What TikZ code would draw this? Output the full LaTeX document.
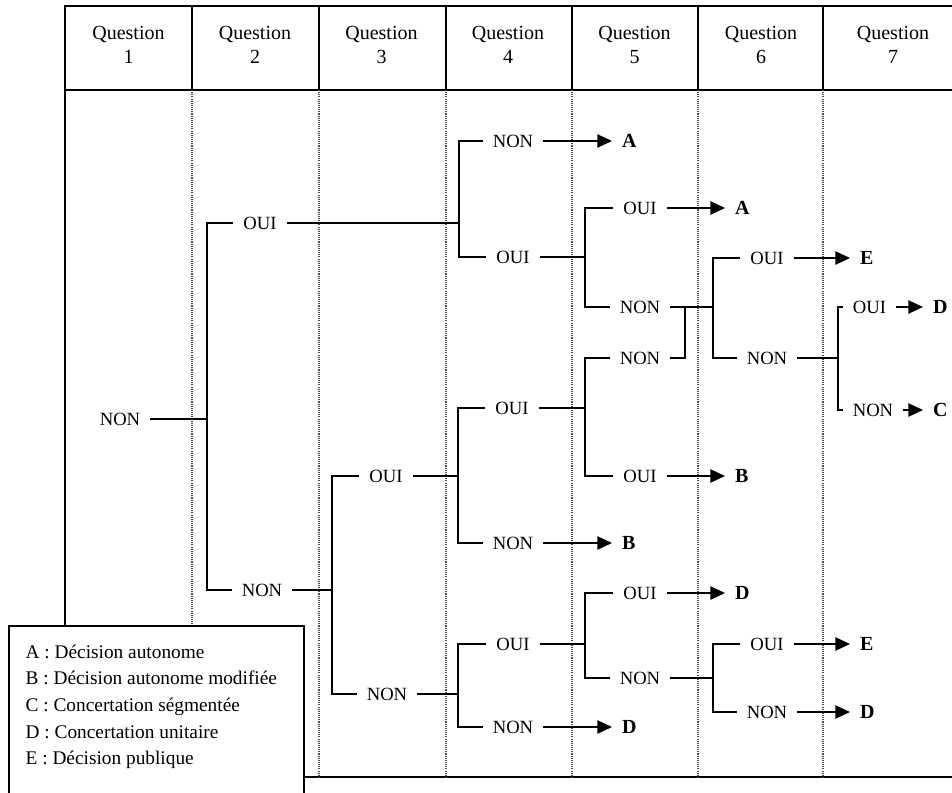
\documentclass[tikz,border=0pt]{standalone}
\usepackage{fontspec}
\setmainfont{Liberation Serif}
\usetikzlibrary{arrows.meta}

\begin{document}
\begin{tikzpicture}[x=0.75pt, y=-0.75pt, line width=1pt,
  >={Triangle[length=11pt, width=10pt]},
  frame/.style={line width=1.2pt},
  sep/.style={line width=0.8pt, dash pattern=on 0.8pt off 0.8pt, black!70},
  head/.style={align=center, font=\fontsize{15}{18}\selectfont},
  ans/.style={inner xsep=7pt, inner ysep=2pt, font=\fontsize{14}{16}\selectfont},
  res/.style={anchor=west, inner xsep=7pt, font=\fontsize{15}{16}\selectfont\bfseries}]
  \useasboundingbox (0,0) rectangle (952,792);

  % table frame and columns
  \draw[frame] (65,626) -- (65,6) -- (952,6);
  \draw[frame] (65,90) -- (952,90);
  \draw[frame] (304,777) -- (952,777);
  \foreach \x in {192,319,446,572,698,823} {
    \draw[frame] (\x,6) -- (\x,90);
    \draw[sep] (\x,90) -- (\x,777);
  }
  \foreach \i/\x in {1/128.5,2/255,3/381.5,4/508,5/634.5,6/761,7/893}
    \node[head] (q\i) at (\x,45) {Question\\\i};

  % answers, question by question
  \node[ans] (n1) at (120,419) {NON};
  \node[ans] (o2) at (260,223) {OUI};
  \node[ans] (n2) at (262,590) {NON};
  \node[ans] (o3) at (386,476) {OUI};
  \node[ans] (n3) at (387,694) {NON};
  \node[ans] (n4a) at (513,141) {NON};
  \node[ans] (o4a) at (513,257) {OUI};
  \node[ans] (o4b) at (512,408) {OUI};
  \node[ans] (n4b) at (513,543) {NON};
  \node[ans] (o4c) at (513,644) {OUI};
  \node[ans] (n4c) at (513,727) {NON};
  \node[ans] (o5a) at (640,208) {OUI};
  \node[ans] (n5a) at (640,307) {NON};
  \node[ans] (n5b) at (640,358) {NON};
  \node[ans] (o5b) at (640,476) {OUI};
  \node[ans] (o5c) at (640,593) {OUI};
  \node[ans] (n5c) at (640,678) {NON};
  \node[ans] (o6a) at (767,258) {OUI};
  \node[ans] (n6a) at (767,358) {NON};
  \node[ans] (o6b) at (767,644) {OUI};
  \node[ans] (n6b) at (767,712) {NON};
  \node[ans] (o7) at (869.5,307) {OUI};
  \node[ans] (n7) at (873,410) {NON};

  % outcomes
  \node[res] (rA1) at (612,141) {A};
  \node[res] (rA2) at (725,208) {A};
  \node[res] (rE1) at (850,258) {E};
  \node[res] (rD1) at (923,307) {D};
  \node[res] (rC) at (923,410) {C};
  \node[res] (rB1) at (725,476) {B};
  \node[res] (rB2) at (612,543) {B};
  \node[res] (rD2) at (725,593) {D};
  \node[res] (rE2) at (850,644) {E};
  \node[res] (rD3) at (850,712) {D};
  \node[res] (rD4) at (612,727) {D};

  % branch points
  \coordinate (j1) at (207,419);
  \coordinate (j2a) at (459,223);
  \coordinate (j2b) at (332,590);
  \coordinate (j3a) at (458,476);
  \coordinate (j3b) at (458,694);
  \coordinate (j4a) at (585,257);
  \coordinate (j4b) at (585,408);
  \coordinate (j4c) at (585,644);
  \coordinate (m5) at (685,307);
  \coordinate (j5a) at (713,307);
  \coordinate (j5b) at (713,678);
  \coordinate (j6) at (838,358);

  \draw (n1) -- (j1);
  \draw (o2) -| (j1) |- (n2);
  \draw (o2) -- (j2a);
  \draw (n4a) -| (j2a) |- (o4a);
  \draw (n2) -- (j2b);
  \draw (o3) -| (j2b) |- (n3);
  \draw (o3) -- (j3a);
  \draw (o4b) -| (j3a) |- (n4b);
  \draw (n3) -- (j3b);
  \draw (o4c) -| (j3b) |- (n4c);
  \draw (o4a) -- (j4a);
  \draw (o5a) -| (j4a) |- (n5a);
  \draw (o4b) -- (j4b);
  \draw (n5b) -| (j4b) |- (o5b);
  \draw (o4c) -- (j4c);
  \draw (o5c) -| (j4c) |- (n5c);
  \draw (n5a) -- (m5) -- (j5a);
  \draw (n5b) -| (m5);
  \draw (o6a) -| (j5a) |- (n6a);
  \draw (n5c) -- (j5b);
  \draw (o6b) -| (j5b) |- (n6b);
  \draw (n6a) -- (j6);
  \draw (o7) -| (j6) |- (n7);

  \draw[->] (n4a) -- (rA1);
  \draw[->] (o5a) -- (rA2);
  \draw[->] (o6a) -- (rE1);
  \draw[->] (o7) -- (rD1);
  \draw[->] (n7) -- (rC);
  \draw[->] (o5b) -- (rB1);
  \draw[->] (n4b) -- (rB2);
  \draw[->] (o5c) -- (rD2);
  \draw[->] (o6b) -- (rE2);
  \draw[->] (n6b) -- (rD3);
  \draw[->] (n4c) -- (rD4);

  % legend
  \draw[frame, fill=white] (9,800) -- (9,626) -- (304,626) -- (304,800);
  \node[anchor=north west, inner sep=0pt, align=left,
    font=\fontsize{14.5}{20}\selectfont] (legend) at (25,644)
    {A : Décision autonome\\B : Décision autonome modifiée\\C : Concertation ségmentée\\D : Concertation unitaire\\E : Décision publique};
\end{tikzpicture}
\end{document}
